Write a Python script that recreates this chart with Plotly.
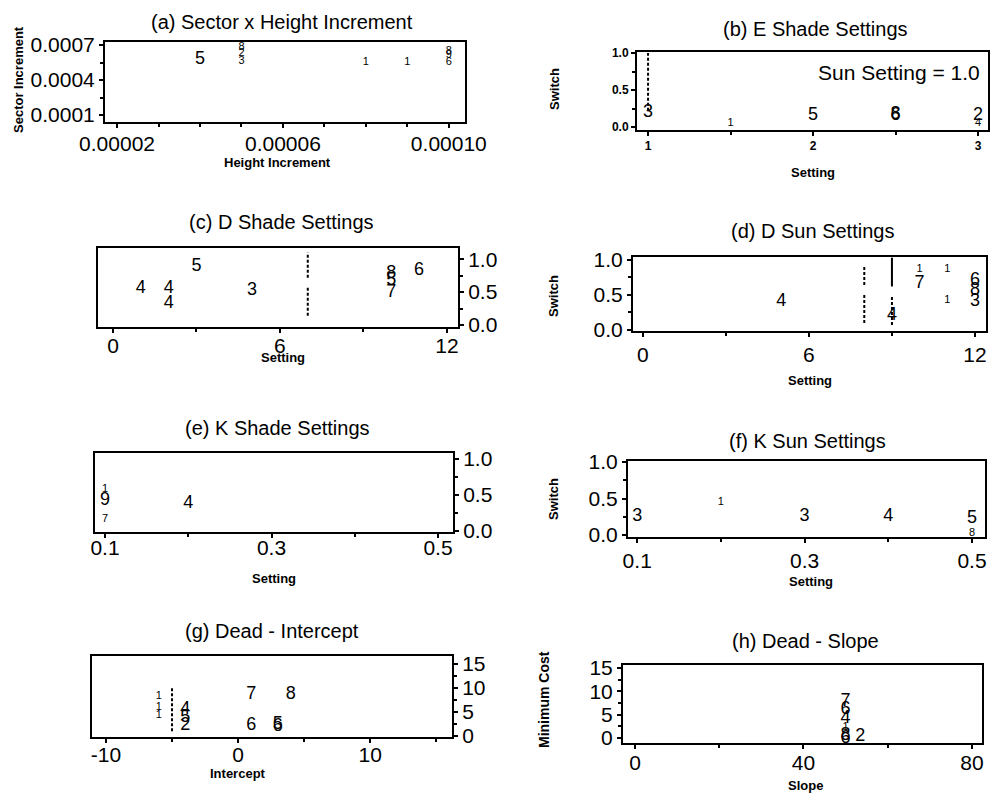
import plotly.graph_objects as go

W, H = 990, 795
FONT = "Liberation Sans"

# ---------------- data ----------------
# (a) Sector x Height Increment
a_x = [0.00004]
a_y = [0.00058]
a_lab = ["5"]
a_xs = [0.00005, 0.00005, 0.00005, 0.00008, 0.00009, 0.00010, 0.00010, 0.00010]
a_ys = [0.00068, 0.00063, 0.00056, 0.00055, 0.00055, 0.00065, 0.00061, 0.00055]
a_labs = ["8", "2", "3", "1", "1", "8", "9", "6"]
a_xticks = [0.00002, 0.00006, 0.00010]
a_xtext = ["0.00002", "0.00006", "0.00010"]
a_yticks = [0.0001, 0.0004, 0.0007]
a_ytext = ["0.0001", "0.0004", "0.0007"]

# (b) E Shade Settings
b_x = [1.0, 2.0, 2.5, 2.5, 3.0]
b_y = [0.19, 0.16, 0.17, 0.15, 0.16]
b_lab = ["3", "5", "8", "6", "2"]
b_xs = [1.5, 3.0]
b_ys = [0.05, 0.05]
b_labs = ["1", "4"]
b_seg_x = [1.0]
b_seg_y0 = [0.22]
b_seg_y1 = [1.0]
b_xticks = [1, 2, 3]
b_xtext = ["1", "2", "3"]
b_yticks = [0.0, 0.5, 1.0]
b_ytext = ["0.0", "0.5", "1.0"]

# (c) D Shade Settings
c_x = [1, 2, 2, 3, 5, 10, 10, 10, 11]
c_y = [0.56, 0.56, 0.33, 0.89, 0.52, 0.79, 0.68, 0.50, 0.83]
c_lab = ["4", "4", "4", "5", "3", "8", "5", "7", "6"]
c_seg_x = [7, 7]
c_seg_y0 = [0.72, 0.14]
c_seg_y1 = [1.10, 0.59]
c_xticks = [0, 6, 12]
c_xtext = ["0", "6", "12"]
c_yticks = [0.0, 0.5, 1.0]
c_ytext = ["0.0", "0.5", "1.0"]

# (d) D Sun Settings
d_x = [5, 9, 10, 12, 12, 12]
d_y = [0.40, 0.20, 0.66, 0.71, 0.56, 0.41]
d_lab = ["4", "4", "7", "6", "8", "3"]
d_xs = [10, 11, 11]
d_ys = [0.86, 0.86, 0.43]
d_labs = ["1", "1", "1"]
d_seg_x = [8, 8, 9]
d_seg_y0 = [0.64, 0.10, 0.07]
d_seg_y1 = [0.90, 0.50, 0.50]
d_solid_x = [9]
d_solid_y0 = [0.62]
d_solid_y1 = [1.03]
d_xticks = [0, 6, 12]
d_xtext = ["0", "6", "12"]
d_yticks = [0.0, 0.5, 1.0]
d_ytext = ["0.0", "0.5", "1.0"]

# (e) K Shade Settings
e_x = [0.1, 0.2]
e_y = [0.42, 0.375]
e_lab = ["9", "4"]
e_xs = [0.1, 0.1]
e_ys = [0.58, 0.17]
e_labs = ["1", "7"]
e_xticks = [0.1, 0.3, 0.5]
e_xtext = ["0.1", "0.3", "0.5"]
e_yticks = [0.0, 0.5, 1.0]
e_ytext = ["0.0", "0.5", "1.0"]

# (f) K Sun Settings
f_x = [0.1, 0.3, 0.4, 0.5]
f_y = [0.26, 0.26, 0.26, 0.22]
f_lab = ["3", "3", "4", "5"]
f_xs = [0.2, 0.5]
f_ys = [0.45, 0.02]
f_labs = ["1", "8"]
f_xticks = [0.1, 0.3, 0.5]
f_xtext = ["0.1", "0.3", "0.5"]
f_yticks = [0.0, 0.5, 1.0]
f_ytext = ["0.0", "0.5", "1.0"]

# (g) Dead - Intercept
g_x = [-4, -4, -4, 1, 4, 1, 3, 3]
g_y = [5.6, 3.8, 2.2, 8.7, 8.7, 2.1, 2.4, 2.0]
g_lab = ["4", "5", "2", "7", "8", "6", "5", "6"]
g_xs = [-6, -6, -6]
g_ys = [8.3, 6.0, 4.4]
g_labs = ["1", "1", "1"]
g_seg_x = [-5]
g_seg_y0 = [1.0]
g_seg_y1 = [10.0]
g_xticks = [-10, 0, 10]
g_xtext = ["-10", "0", "10"]
g_yticks = [0, 5, 10, 15]
g_ytext = ["0", "5", "10", "15"]

# (h) Dead - Slope
h_x = [50, 50, 50, 50, 50, 53.5]
h_y = [7.9, 6.2, 4.1, 0.6, 0.0, 0.3]
h_lab = ["7", "6", "4", "8", "6", "2"]
h_xs = [50]
h_ys = [2.4]
h_labs = ["1"]
h_xticks = [0, 40, 80]
h_xtext = ["0", "40", "80"]
h_yticks = [0, 5, 10, 15]
h_ytext = ["0", "5", "10", "15"]

# ---------------- figure ----------------
fig = go.Figure()


def dom_x(p0, p1):
    return [p0 / W, p1 / W]


def dom_y(top, bottom):
    return [1 - bottom / H, 1 - top / H]


def axis(dom, rng, tv, tt, size, side=None, standoff=0, minor_dtick=None,
         minor_tick0=None, anchor=None, weight="normal"):
    d = dict(domain=dom, range=rng, tickmode="array", tickvals=tv, ticktext=tt,
             showline=True, linecolor="black", linewidth=2, mirror=True,
             ticks="outside", ticklen=4, tickwidth=1.5, tickcolor="black",
             showgrid=False, zeroline=False, anchor=anchor, automargin=False,
             ticklabelstandoff=standoff,
             tickfont=dict(family=FONT, size=size, color="black", weight=weight))
    if side:
        d["side"] = side
    if minor_dtick is not None:
        d["minor"] = dict(ticks="outside", ticklen=3, tickwidth=1.5,
                          tickcolor="black", dtick=minor_dtick,
                          tick0=minor_tick0 if minor_tick0 is not None else 0)
    return d


def add_text(n, xs, ys, labs, size):
    sfx = "" if n == 1 else str(n)
    fig.add_trace(go.Scatter(
        x=xs, y=ys, text=labs, mode="text", textposition="middle center",
        textfont=dict(family=FONT, size=size, color="black"),
        xaxis="x" + sfx, yaxis="y" + sfx, showlegend=False,
        hoverinfo="skip", cliponaxis=False))


def add_segments(n, xs, y0s, y1s, dash="3px,2px", width=2):
    sfx = "" if n == 1 else str(n)
    for x, y0, y1 in zip(xs, y0s, y1s):
        fig.add_trace(go.Scatter(
            x=[x, x], y=[y0, y1], mode="lines",
            line=dict(color="black", width=width, dash=dash),
            xaxis="x" + sfx, yaxis="y" + sfx, showlegend=False,
            hoverinfo="skip"))


BIG, SMALL, TICK = 18, 11, 21

layout = {}
# (a)
layout["xaxis"] = axis(dom_x(105, 465), [0.0000171, 0.0001039], a_xticks, a_xtext,
                       TICK, standoff=-2, minor_dtick=0.00001, anchor="y")
layout["yaxis"] = axis(dom_y(42, 122), [0.00004, 0.000726], a_yticks, a_ytext,
                       TICK, standoff=0, minor_dtick=0.00015, minor_tick0=0.0001, anchor="x")
# (b)
layout["xaxis2"] = axis(dom_x(637, 988), [0.933, 3.06], b_xticks, b_xtext,
                        12, standoff=0, minor_dtick=0.5, anchor="y2", weight="bold")
layout["yaxis2"] = axis(dom_y(52, 130), [-0.04, 1.014], b_yticks, b_ytext,
                        12, standoff=0, minor_dtick=0.25, anchor="x2", weight="bold")
# (c)
layout["xaxis3"] = axis(dom_x(98, 458), [-0.54, 12.4], c_xticks, c_xtext,
                        TICK, standoff=-5, minor_dtick=3, anchor="y3")
layout["yaxis3"] = axis(dom_y(248, 327), [-0.03, 1.17], c_yticks, c_ytext,
                        TICK, side="right", standoff=0, minor_dtick=0.25, anchor="x3")
# (d)
layout["xaxis4"] = axis(dom_x(633, 986), [-0.36, 12.4], d_xticks, d_xtext,
                        TICK, standoff=0, minor_dtick=3, anchor="y4")
layout["yaxis4"] = axis(dom_y(257, 331), [-0.014, 1.04], d_yticks, d_ytext,
                        TICK, standoff=0, minor_dtick=0.25, anchor="x4")
# (e)
layout["xaxis5"] = axis(dom_x(95, 453), [0.088, 0.518], e_xticks, e_xtext,
                        TICK, standoff=-8, minor_dtick=0.1, anchor="y5")
layout["yaxis5"] = axis(dom_y(453, 532), [-0.014, 1.083], e_yticks, e_ytext,
                        TICK, side="right", standoff=0, minor_dtick=0.25, anchor="x5")
# (f)
layout["xaxis6"] = axis(dom_x(628, 985), [0.089, 0.5155], f_xticks, f_xtext,
                        TICK, standoff=0, minor_dtick=0.1, anchor="y6")
layout["yaxis6"] = axis(dom_y(461, 537), [-0.027, 1.014], f_yticks, f_ytext,
                        TICK, standoff=0, minor_dtick=0.25, anchor="x6")
# (g)
layout["xaxis7"] = axis(dom_x(92, 452), [-11.06, 16.2], g_xticks, g_xtext,
                        TICK, standoff=-6, minor_dtick=5, anchor="y7")
layout["yaxis7"] = axis(dom_y(656, 737), [-0.2, 16.67], g_yticks, g_ytext,
                        TICK, side="right", standoff=0, minor_dtick=2.5, anchor="x7")
# (h)
layout["xaxis8"] = axis(dom_x(623, 982), [-2.85, 82.4], h_xticks, h_xtext,
                        TICK, standoff=-4, minor_dtick=20, anchor="y8")
layout["yaxis8"] = axis(dom_y(665, 743), [-1.07, 15.64], h_yticks, h_ytext,
                        TICK, standoff=0, minor_dtick=2.5, anchor="x8")

# marks
add_text(1, a_x, a_y, a_lab, BIG)
add_text(1, a_xs, a_ys, a_labs, SMALL)

add_segments(2, b_seg_x, b_seg_y0, b_seg_y1)
add_text(2, b_x, b_y, b_lab, BIG)
add_text(2, b_xs, b_ys, b_labs, SMALL)

add_segments(3, c_seg_x, c_seg_y0, c_seg_y1)
add_text(3, c_x, c_y, c_lab, BIG)

add_segments(4, d_seg_x, d_seg_y0, d_seg_y1)
add_segments(4, d_solid_x, d_solid_y0, d_solid_y1, dash="solid")
add_text(4, d_x, d_y, d_lab, BIG)
add_text(4, d_xs, d_ys, d_labs, SMALL)

add_text(5, e_x, e_y, e_lab, BIG)
add_text(5, e_xs, e_ys, e_labs, SMALL)

add_text(6, f_x, f_y, f_lab, BIG)
add_text(6, f_xs, f_ys, f_labs, SMALL)

add_segments(7, g_seg_x, g_seg_y0, g_seg_y1)
add_text(7, g_x, g_y, g_lab, BIG)
add_text(7, g_xs, g_ys, g_labs, SMALL)

add_text(8, h_x, h_y, h_lab, BIG)
add_text(8, h_xs, h_ys, h_labs, SMALL)

# panel titles and axis titles, placed in page pixels
TITLE = 20
LABEL = 13


def note(text, px, py, size, angle=0, weight="normal"):
    return dict(text=text, x=px / W, y=1 - py / H, xref="paper", yref="paper",
                xanchor="center", yanchor="middle", showarrow=False,
                textangle=angle,
                font=dict(family=FONT, size=size, color="black", weight=weight))


annotations = [
    note("(a) Sector x Height Increment", 282, 22, TITLE),
    note("(b) E Shade Settings", 815, 29, TITLE),
    note("(c) D Shade Settings", 281, 222, TITLE),
    note("(d) D Sun Settings", 812, 231, TITLE),
    note("(e) K Shade Settings", 277, 428, TITLE),
    note("(f) K Sun Settings", 807, 441, TITLE),
    note("(g) Dead - Intercept", 272, 631, TITLE),
    note("(h) Dead - Slope", 805, 641, TITLE),
    note("Sector Increment", 19, 80, LABEL, -90, "bold"),
    note("Height Increment", 277, 163, LABEL, 0, "bold"),
    note("Switch", 555, 89, LABEL, -90, "bold"),
    note("Setting", 813, 173, LABEL, 0, "bold"),
    note("Setting", 283, 357, LABEL, 0, "bold"),
    note("Switch", 554, 296, LABEL, -90, "bold"),
    note("Setting", 810, 380, LABEL, 0, "bold"),
    note("Setting", 274, 578, LABEL, 0, "bold"),
    note("Switch", 553, 499, LABEL, -90, "bold"),
    note("Setting", 811, 581, LABEL, 0, "bold"),
    note("Intercept", 238, 773, LABEL, 0, "bold"),
    note("Minimum Cost", 544, 700, 14, -90, "bold"),
    note("Slope", 805, 785, LABEL, 0, "bold"),
    dict(text="Sun Setting = 1.0", x=2.52, y=0.74, xref="x2", yref="y2",
         xanchor="center", yanchor="middle", showarrow=False,
         font=dict(family=FONT, size=21, color="black")),
]

fig.update_layout(
    width=W, height=H, margin=dict(l=0, r=0, t=0, b=0, autoexpand=False),
    paper_bgcolor="white", plot_bgcolor="white",
    showlegend=False, annotations=annotations, **layout)

fig.write_html("out.html")
